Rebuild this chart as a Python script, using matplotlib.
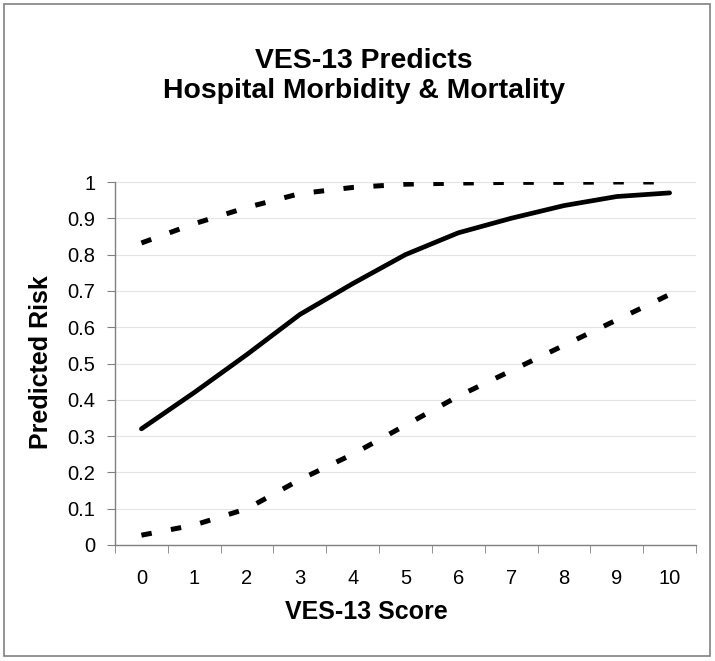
import matplotlib
matplotlib.use('Agg')
from matplotlib import pyplot as plt
from matplotlib.patches import Rectangle
import numpy as np

plt.rcParams['font.family'] = ['Liberation Sans', 'DejaVu Sans']

# VES-13 score categories and predicted risk
scores = [0, 1, 2, 3, 4, 5, 6, 7, 8, 9, 10]
risk = [0.32, 0.42, 0.525, 0.635, 0.72, 0.80, 0.86, 0.90, 0.935, 0.96, 0.97]
upper = [0.832, 0.885, 0.93, 0.968, 0.985, 0.994, 0.997, 0.999, 0.999, 1.0, 1.0]
lower = [0.027, 0.055, 0.10, 0.18, 0.25, 0.33, 0.41, 0.48, 0.55, 0.62, 0.69]
yticks = [0, 0.1, 0.2, 0.3, 0.4, 0.5, 0.6, 0.7, 0.8, 0.9, 1]

W, H = 715, 661
fig = plt.figure(figsize=(W/100, H/100), dpi=100)
ax = fig.add_axes([115/W, 1-545/H, (696-115)/W, (545-182)/H])

grey = '#808080'
ax.plot(scores, risk, color='black', lw=3.4, solid_capstyle='round', zorder=3)
for s in (upper, lower):
	ax.plot(scores, s, color='black', lw=3.6, dashes=(2.1, 3.9), dash_capstyle='butt', zorder=3)

ax.set_xlim(-0.5, 10.5)
ax.set_ylim(0, 1)
ax.set_yticks(yticks)
ax.set_yticklabels(['%g' % t for t in yticks])
ax.set_xticks(scores)
ax.set_xticks(np.arange(-0.5, 11, 1), minor=True)
ax.tick_params(axis='x', which='major', length=0, pad=17, labelsize=14.5)
ax.tick_params(axis='x', which='minor', length=6, color=grey, direction='out')
ax.tick_params(axis='y', length=6, color=grey, pad=8, labelsize=14.5)
ax.grid(axis='y', color='#e4e4e4', lw=0.8, zorder=0)
for side in ('top', 'right'):
	ax.spines[side].set_visible(False)
for side in ('left', 'bottom'):
	ax.spines[side].set_color(grey)
	ax.spines[side].set_linewidth(1.0)

# axis titles sit where the original chart put them (not centred on the axes)
fig.text(366/W, 1-619/H, 'VES-13 Score', ha='center', va='baseline',
	fontsize=18, fontweight='bold')
fig.text(41/W, 1-362/H, 'Predicted Risk', ha='center', va='center', rotation=90,
	fontsize=18, fontweight='bold')
fig.text(364/W, 1-68/H, 'VES-13 Predicts', ha='center', va='baseline',
	fontsize=20.4, fontweight='bold')
fig.text(364/W, 1-98/H, 'Hospital Morbidity & Mortality', ha='center', va='baseline',
	fontsize=20.4, fontweight='bold')

fig.patches.append(Rectangle((4/W, 1-656/H), 706/W, 652/H, transform=fig.transFigure,
	fill=False, edgecolor=grey, lw=1.2))

plt.savefig('out.png', dpi=100)
